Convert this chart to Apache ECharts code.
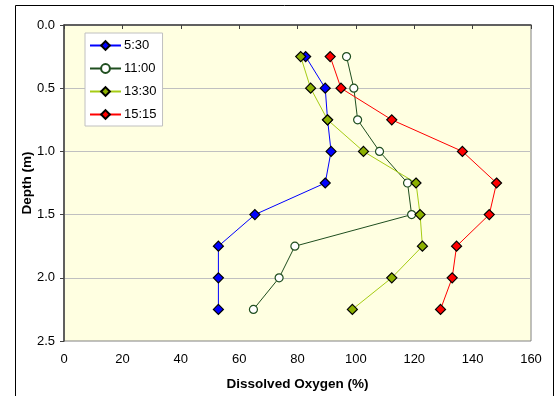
<!DOCTYPE html>
<html><head><meta charset="utf-8">
<script src="https://cdn.jsdelivr.net/npm/echarts@6/dist/echarts.min.js"></script>
<style>html,body{margin:0;padding:0;background:#fff}#c{width:557px;height:396px}</style>
</head><body><div id="c"></div>
<script>
const depths = [0.25, 0.5, 0.75, 1.0, 1.25, 1.5, 1.75, 2.0, 2.25];
const s0530 = [82.8, 89.5, 90.3, 91.5, 89.5, 65.4, 52.9, 52.9, 52.9];
const s1100 = [96.8, 99.3, 100.6, 108.1, 117.7, 119.1, 79.1, 73.7, 64.9];
const s1330 = [81.1, 84.5, 90.3, 102.6, 120.6, 122.0, 122.8, 112.3, 98.8];
const s1515 = [91.2, 94.9, 112.3, 136.5, 148.2, 145.7, 134.5, 133.0, 129.0];
const seriesNames = ['5:30', '11:00', '13:30', '15:15'];

const chart = echarts.init(document.getElementById('c'), null, {renderer: 'canvas'});
function pts(arr) { return arr.map((v, i) => [v, depths[i]]); }
function mk(name, data, lineColor, fill, border, symbol) {
  return {
    name, type: 'line', data: pts(data), symbol, symbolSize: symbol === 'circle' ? 8 : 10,
    lineStyle: {color: lineColor, width: 1},
    itemStyle: {color: fill, borderColor: border, borderWidth: 1.2},
    emphasis: {disabled: true}, animation: false, z: 3
  };
}
chart.setOption({
  animation: false,
  graphic: [{type: 'rect', shape: {x: 15.5, y: 5.5, width: 538, height: 400}, style: {fill: 'none', stroke: '#000', lineWidth: 1}, z: -10}],
  grid: {left: 64, top: 25, width: 467, height: 318, show: true, backgroundColor: '#FFFFE1', borderColor: '#808080', borderWidth: 1},
  xAxis: {
    type: 'value', min: 0, max: 160, interval: 20,
    name: 'Dissolved Oxygen (%)', nameLocation: 'middle', nameGap: 36, nameMoveOverlap: false,
    nameTextStyle: {fontFamily: 'Liberation Sans', fontSize: 13.5, fontWeight: 'bold', color: '#000'},
    axisLine: {lineStyle: {color: '#404040', width: 1.5}},
    axisTick: {show: true, length: 4, lineStyle: {color: '#404040'}},
    axisLabel: {fontFamily: 'Liberation Sans', fontSize: 13, color: '#000', margin: 12},
    splitLine: {show: false}
  },
  yAxis: {
    type: 'value', inverse: true, min: 0, max: 2.5, interval: 0.5,
    name: 'Depth (m)', nameLocation: 'middle', nameGap: 30, nameRotate: 90, nameMoveOverlap: false,
    nameTextStyle: {fontFamily: 'Liberation Sans', fontSize: 13.5, fontWeight: 'bold', color: '#000'},
    axisLine: {lineStyle: {color: '#404040', width: 1.5}},
    axisTick: {show: true, length: 4, lineStyle: {color: '#404040'}},
    axisLabel: {fontFamily: 'Liberation Sans', fontSize: 13, color: '#000', margin: 9, formatter: v => v.toFixed(1)},
    splitLine: {show: true, lineStyle: {color: '#C0C0C0', width: 1}}
  },
  legend: {
    orient: 'vertical', left: 85, top: 33, data: seriesNames,
    backgroundColor: '#fff', borderColor: '#C0C0C0', borderWidth: 1,
    padding: [6, 6, 5, 4], itemWidth: 31, itemHeight: 11, itemGap: 10,
    textStyle: {fontFamily: 'Liberation Sans', fontSize: 13, color: '#000', padding: [0, 0, 0, -2]}
  },
  series: [
    mk(seriesNames[0], s0530, '#0000FF', '#0000FF', '#000', 'diamond'),
    mk(seriesNames[1], s1100, '#1F4E1F', '#FFFFFF', '#1F4E1F', 'circle'),
    mk(seriesNames[2], s1330, '#A6CC14', '#8CB000', '#000', 'diamond'),
    mk(seriesNames[3], s1515, '#FF0000', '#FF0000', '#000', 'diamond')
  ]
});
</script></body></html>
